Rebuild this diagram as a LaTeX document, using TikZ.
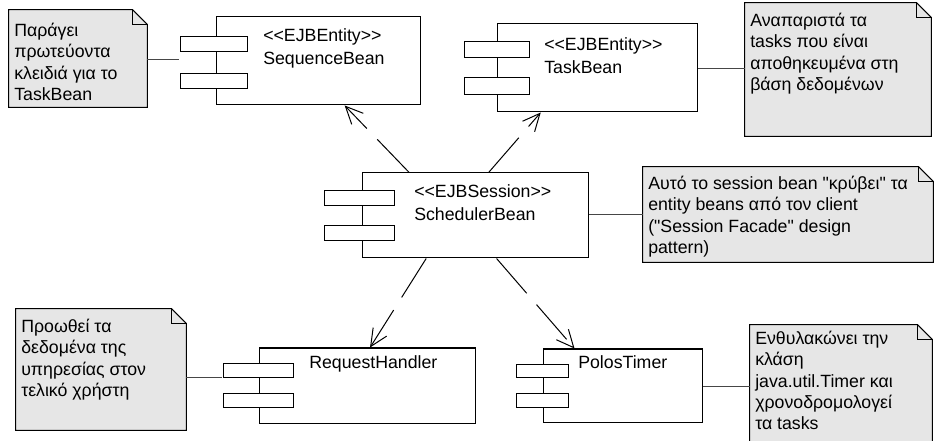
\documentclass[tikz,border=0pt]{standalone}
\usepackage{fontspec}
\setmainfont{Liberation Sans}[Ligatures=TeXOff]
\usetikzlibrary{arrows.meta,positioning,calc,fit}
\definecolor{notegray}{RGB}{230,230,230}
\definecolor{linegray}{RGB}{70,70,70}
% note outline with folded corner, drawn from the anchors of an empty node
\newcommand{\foldnote}[1]{%
  \filldraw[notebox] (#1.north west) -- ([xshift=-11pt]#1.north east)
    -- ([yshift=-11pt]#1.north east) -- (#1.south east) -- (#1.south west) -- cycle;
  \draw[notebox, fill=none] ([xshift=-11pt]#1.north east) |- ([yshift=-11pt]#1.north east);}

\begin{document}
\begin{tikzpicture}[
    x=0.75pt, y=-0.75pt,
    every node/.style={inner sep=0pt},
    body/.style={rectangle, draw=black, fill=white, line width=0.75pt},
    port/.style={rectangle, draw=black, fill=white, line width=0.75pt},
    lbl/.style={anchor=north west, align=left, font=\fontsize{13.3}{17.3}\selectfont},
    whole/.style={rectangle},
    notebox/.style={draw=black, fill=notegray, line width=0.75pt},
    notetxt/.style={anchor=north west, align=left, font=\fontsize{13.3}{16.1}\selectfont},
    link/.style={draw=linegray, line width=0.75pt},
    dep/.style={-{Straight Barb[length=13pt,width=12pt]}, line width=0.75pt,
        dash pattern=on 34.5pt off 11.25pt}
]
    \clip (0,0) rectangle (938,441);

    % SequenceBean
    \node[body, fit={(216,17) (420,105)}] (seq-body) {};
    \node[port, fit={(180,37) (247,52)}] (seq-p1) {};
    \node[port, fit={(180,74) (247,89)}] (seq-p2) {};
    \node[lbl] (seq-lbl) at (263,28.5) {<<EJBEntity>>\\SequenceBean};
    \node[whole, fit=(seq-body) (seq-p1) (seq-p2)] (seq) {};

    % TaskBean
    \node[body, fit={(497,24) (697,112)}] (task-body) {};
    \node[port, fit={(464,42) (529,58)}] (task-p1) {};
    \node[port, fit={(464,78) (529,95)}] (task-p2) {};
    \node[lbl] (task-lbl) at (544,37.5) {<<EJBEntity>>\\TaskBean};
    \node[whole, fit=(task-body) (task-p1) (task-p2)] (task) {};

    % SchedulerBean
    \node[body, fit={(362,173) (588,258)}] (sched-body) {};
    \node[port, fit={(324,191) (394,206)}] (sched-p1) {};
    \node[port, fit={(324,226) (394,241)}] (sched-p2) {};
    \node[lbl] (sched-lbl) at (414,184.5) {<<EJBSession>>\\SchedulerBean};
    \node[whole, fit=(sched-body) (sched-p1) (sched-p2)] (sched) {};

    % RequestHandler
    \node[body, fit={(259,348) (475,423)}] (rh-body) {};
    \node[port, fit={(223,363) (293,377)}] (rh-p1) {};
    \node[port, fit={(223,393) (293,407)}] (rh-p2) {};
    \node[lbl] (rh-lbl) at (309,355.5) {RequestHandler};
    \node[whole, fit=(rh-body) (rh-p1) (rh-p2)] (rh) {};

    % PolosTimer
    \node[body, fit={(543,349) (702,422)}] (pt-body) {};
    \node[port, fit={(516,364) (568,377)}] (pt-p1) {};
    \node[port, fit={(516,393) (568,407)}] (pt-p2) {};
    \node[lbl] (pt-lbl) at (578,355.5) {PolosTimer};
    \node[whole, fit=(pt-body) (pt-p1) (pt-p2)] (pt) {};

    % notes
    \node[whole, fit={(9,10) (147,107)}] (n1) {};
    \foldnote{n1}
    \node[notetxt] (n1-txt) at (14,22.7) {Παράγει\\πρωτεύοντα\\κλειδιά για το\\TaskBean};

    \node[whole, fit={(745,3) (931,136)}] (n2) {};
    \foldnote{n2}
    \node[notetxt] (n2-txt) at (750,12.6) {Αναπαριστά τα\\tasks που είναι\\αποθηκευμένα στη\\βάση δεδομένων};

    \node[whole, fit={(643,167) (933,262)}] (n3) {};
    \foldnote{n3}
    \node[notetxt] (n3-txt) at (648,175.5) {Αυτό το session bean "κρύβει" τα\\entity beans από τον client\\("Session Facade" design\\pattern)};

    \node[whole, fit={(16,309) (186,430)}] (n4) {};
    \foldnote{n4}
    \node[notetxt] (n4-txt) at (21,318.5) {Προωθεί τα\\δεδομένα της\\υπηρεσίας στον\\τελικό χρήστη};

    \node[whole, fit={(750,325) (932,448)}] (n5) {};
    \foldnote{n5}
    \node[notetxt] (n5-txt) at (755,330.5) {Ενθυλακώνει την\\κλάση\\java.util.Timer και\\χρονοδρομολογεί\\τα tasks};

    % note links, horizontal at the middle height of both ends
    \coordinate (m1) at ($(n1)!.5!(seq)$);
    \coordinate (m2) at ($(task)!.5!(n2)$);
    \coordinate (m3) at ($(sched)!.5!(n3)$);
    \coordinate (m4) at ($(n4)!.5!(rh)$);
    \coordinate (m5) at ($(pt)!.5!(n5)$);
    \draw[link] (n1.east |- m1) -- (seq.west |- m1);
    \draw[link] (task.east |- m2) -- (n2.west |- m2);
    \draw[link] (sched.east |- m3) -- (n3.west |- m3);
    \draw[link] (n4.east |- m4) -- (rh.west |- m4);
    \draw[link] (pt.east |- m5) -- (n5.west |- m5);

    % dependencies
    \draw[dep] ($(sched-body.north west)!.21!(sched-body.north east)$)
        -- ($(seq-body.south west)!.63!(seq-body.south east)$);
    \draw[dep] ($(sched-body.north west)!.56!(sched-body.north east)$)
        -- ($(task-body.south west)!.22!(task-body.south east)$);
    \draw[dep] ($(sched-body.south west)!.285!(sched-body.south east)$)
        -- ($(rh-body.north west)!.514!(rh-body.north east)$);
    \draw[dep] ($(sched-body.south west)!.595!(sched-body.south east)$)
        -- ($(pt-body.north west)!.20!(pt-body.north east)$);
\end{tikzpicture}
\end{document}
